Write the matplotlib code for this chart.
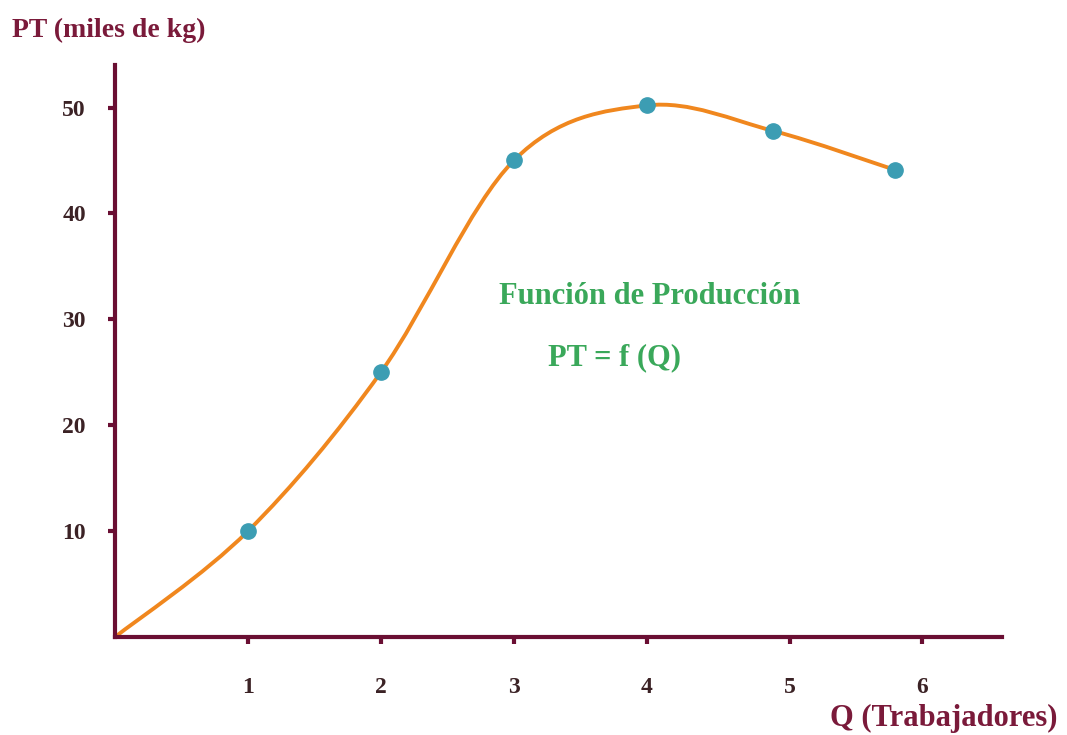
import matplotlib.pyplot as plt
from matplotlib.path import Path
from matplotlib.patches import PathPatch
import numpy as np

# datos
q = [0, 1, 2, 3, 4, 4.95, 5.87]
pt = [0, 10, 25, 45, 50.2, 47.8, 44.1]
x_ticks = [1, 2, 3, 4, 5.08, 6.07]
x_labels = ["1", "2", "3", "4", "5", "6"]
y_ticks = [10, 20, 30, 40, 50]
y_labels = ["10", "20", "30", "40", "50"]

axis_col = "#6a0f33"
label_col = "#7a1a3a"
tick_col = "#3b2225"
line_col = "#f0871e"
dot_col = "#3c9db3"
green = "#3aa85a"

plt.rcParams['font.family'] = ['Liberation Serif', 'DejaVu Serif']
plt.rcParams['font.weight'] = 'bold'

fig = plt.figure(figsize=(10.67, 7.35), dpi=100)
ax = fig.add_axes([0.1078, 0.1333, 0.831, 0.778])

# curva suave (Catmull-Rom -> Bezier cubica), dibujada por matplotlib
pts = np.column_stack([q, pt])
verts = [tuple(pts[0])]
codes = [Path.MOVETO]
for i in range(len(pts) - 1):
    p0 = pts[i - 1] if i > 0 else pts[i]
    p1 = pts[i]
    p2 = pts[i + 1]
    p3 = pts[i + 2] if i + 2 < len(pts) else pts[i + 1]
    c1 = p1 + (p2 - p0) / 6
    c2 = p2 - (p3 - p1) / 6
    verts += [tuple(c1), tuple(c2), tuple(p2)]
    codes += [Path.CURVE4] * 3
ax.add_patch(PathPatch(Path(verts, codes), fill=False, edgecolor=line_col, lw=2.8, zorder=2))

ax.plot(q[1:], pt[1:], 'o', color=dot_col, markersize=11, zorder=3)

ax.set_xlim(0, 6.67)
ax.set_ylim(0, 54)
ax.set_xticks(x_ticks)
ax.set_xticklabels(x_labels)
ax.set_yticks(y_ticks)
ax.set_yticklabels(y_labels)

for s in ['top', 'right']:
    ax.spines[s].set_visible(False)
for s in ['left', 'bottom']:
    ax.spines[s].set_color(axis_col)
    ax.spines[s].set_linewidth(3)

ax.tick_params(axis='x', colors=axis_col, length=5, width=3, pad=24, labelsize=17, labelcolor=tick_col)
ax.tick_params(axis='y', colors=axis_col, length=5, width=3, pad=16, labelsize=17, labelcolor=tick_col)

ax.text(2.89, 32.2, "Función de Producción", color=green, fontsize=22, va='center')
ax.text(3.26, 26.4, "PT = f (Q)", color=green, fontsize=22, va='center')

fig.text(12 / 1067, 1 - 30 / 735, "PT (miles de kg)", color=label_col, fontsize=20, va='center')
fig.text(1057 / 1067, 1 - 718 / 735, "Q (Trabajadores)", color=label_col, fontsize=22, va='center', ha='right')

fig.savefig("out.png", dpi=100)
